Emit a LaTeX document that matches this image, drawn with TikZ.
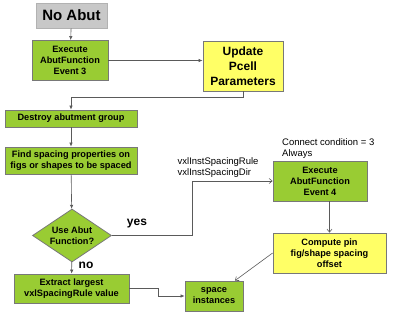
\documentclass[tikz,border=0pt]{standalone}
\usepackage{fontspec}
\setmainfont{Liberation Sans}
\usepackage{tikz}
\usetikzlibrary{shapes.geometric,arrows.meta}

\definecolor{boxgreen}{RGB}{153,204,51}
\definecolor{boxyellow}{RGB}{255,255,102}
\definecolor{boxgray}{RGB}{200,200,200}
\definecolor{edgegray}{RGB}{120,120,120}
\definecolor{linegray}{RGB}{90,90,90}

\tikzset{
    box/.style={draw=edgegray, line width=0.8pt, align=center, inner sep=1pt,
        font=\bfseries\fontsize{9.2}{11}\selectfont},
    greenbox/.style={box, fill=boxgreen},
    yellowbox/.style={box, fill=boxyellow},
    flow/.style={draw=linegray, line width=0.6pt, -{Latex[length=4pt,width=3.5pt]}},
    openflow/.style={draw=linegray, line width=0.6pt, -{Straight Barb[length=3pt,width=5pt]}},
    note/.style={align=left, inner sep=0pt, font=\fontsize{9.5}{10.5}\selectfont}
}

\begin{document}
\begin{tikzpicture}[x=1pt, y=-1pt]
        \useasboundingbox (0,0) rectangle (400,322);

        \node[box, fill=boxgray, draw=boxgray!70!gray, minimum width=71pt, minimum height=25pt,
            font=\bfseries\fontsize{15}{17}\selectfont] (noabut) at (71.5,15.5) {No Abut};
        \node[greenbox, minimum width=76pt, minimum height=40pt] (ev3) at (70,60.5)
            {Execute\\AbutFunction\\Event 3};
        \node[yellowbox, minimum width=80pt, minimum height=50pt,
            font=\bfseries\fontsize{12}{15}\selectfont] (upd) at (243,66)
            {Update\\Pcell\\Parameters};
        \node[greenbox, minimum width=132pt, minimum height=17pt] (destroy) at (71,118.5)
            {Destroy abutment group};
        \node[greenbox, minimum width=132pt, minimum height=27pt] (find) at (71,160.5)
            {Find spacing properties on\\figs or shapes to be spaced};
        \node[greenbox, diamond, aspect=1.5, inner sep=0pt, minimum width=79pt, minimum height=53pt,
            font=\bfseries\fontsize{9.2}{10.5}\selectfont] (use) at (72,235.5)
            {Use Abut\\Function?};
        \node[greenbox, minimum width=115pt, minimum height=29pt] (extract) at (71.5,288.5)
            {Extract largest\\vxlSpacingRule value};
        \node[greenbox, minimum width=94pt, minimum height=40pt] (ev4) at (320,181)
            {Execute\\AbutFunction\\Event 4};
        \node[yellowbox, minimum width=113pt, minimum height=40pt] (compute) at (329.5,253)
            {Compute pin\\fig/shape spacing\\offset};
        \node[greenbox, minimum width=58pt, minimum height=30pt] (space) at (214,296)
            {space\\instances};

        % labels
        \node[note, anchor=north west] (spacingvars) at (177.5,157.5)
            {vxlInstSpacingRule\\vxlInstSpacingDir};
        \node[note, anchor=north west] (condition) at (282,138.5)
            {Connect condition = 3\\Always};
        \node[font=\bfseries\fontsize{12}{14}\selectfont, inner sep=0pt] (yes) at (137,224) {yes};
        \node[font=\bfseries\fontsize{12}{14}\selectfont, inner sep=0pt] (no) at (86,265) {no};

        \coordinate (yesturn) at (192,235.5);

        % connectors
        \draw[flow] (noabut) -- (ev3);
        \draw[flow] (ev3.east) -- (ev3.east -| upd.west);
        \draw[flow] (upd.south) -- ++(0,6) -| (destroy.north);
        \draw[flow] (destroy) -- (find);
        \draw[flow] (find) -- (use);
        \draw[flow] (use) -- (extract);
        \draw[openflow] (use.east) -- (yesturn) |- (ev4.west);
        \draw[openflow] (compute.north |- ev4.south) -- (compute.north);
        \draw[openflow] (compute.west) -- (space);
        \draw[flow] (extract.east) -- ++(28.5,0) |- (space.west);
    \end{tikzpicture}
\end{document}
